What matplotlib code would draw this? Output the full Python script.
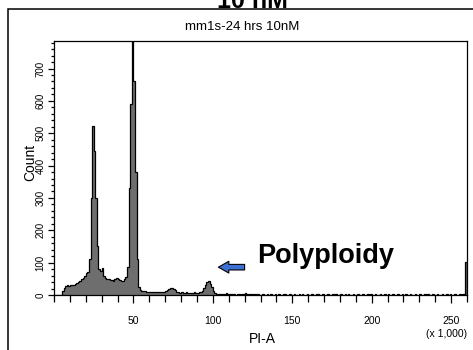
import numpy as np
import matplotlib
matplotlib.use("Agg")
import matplotlib.pyplot as plt
from matplotlib.patches import Rectangle
from matplotlib.ticker import MultipleLocator

# PI-A histogram, 1 channel = 1,000 units, counts (bins 0..259)
counts_0_60 = [
    0, 0, 0, 0, 0, 12, 22, 28, 30, 27, 30, 32, 30, 34, 36, 40, 44, 48, 52, 58,
    68, 72, 110, 300, 521, 445, 300, 150, 80, 75, 82, 60, 52, 50, 48, 45, 47, 44, 50, 53,
    50, 46, 44, 42, 48, 55, 85, 330, 590, 810, 660, 380, 110, 25, 15, 13, 12, 11, 10, 9,
]
counts_60_110 = [
    9, 10, 9, 8, 9, 8, 9, 8, 9, 10, 11, 14, 18, 21, 22, 19, 14, 10, 8, 7,
    8, 6, 7, 8, 6, 7, 5, 7, 8, 6, 7, 8, 9, 12, 22, 31, 40, 43, 35, 25,
    12, 5, 3, 2, 3, 2, 2, 3, 6, 2,
]
counts_110_260 = [
    2, 2, 3, 2, 1, 2, 2, 1, 2, 2, 6, 2, 1, 2, 2, 1, 2, 1, 2, 1,
    1, 2, 1, 1, 2, 1, 3, 1, 1, 2, 1, 2, 1, 1, 2, 3, 1, 1, 2, 1,
    1, 2, 1, 1, 3, 1, 2, 1, 1, 2, 1, 1, 2, 1, 1, 2, 3, 1, 1, 2,
    1, 1, 2, 1, 1, 3, 1, 2, 1, 1, 2, 1, 1, 2, 1, 3, 1, 1, 2, 1,
    1, 2, 1, 1, 2, 1, 1, 3, 1, 2, 1, 1, 2, 1, 1, 2, 1, 1, 2, 1,
    3, 1, 1, 2, 1, 1, 2, 1, 1, 2, 1, 3, 1, 1, 2, 1, 1, 2, 1, 1,
    2, 1, 1, 2, 1, 3, 1, 1, 2, 1, 1, 2, 1, 1, 2, 1, 1, 3, 1, 2,
    1, 1, 2, 1, 1, 2, 1, 2, 3, 102,
]
counts = counts_0_60 + counts_60_110 + counts_110_260
edges = np.arange(len(counts) + 1)

x_ticks = [50, 100, 150, 200, 250]
y_ticks = [0, 100, 200, 300, 400, 500, 600, 700]

main_title = "10 nM"
plot_title = "mm1s-24 hrs 10nM"
x_label = "PI-A"
y_label = "Count"
x_scale = "(x 1,000)"
note = "Polyploidy"

plt.rcParams['font.family'] = ['Liberation Sans', 'DejaVu Sans']

W, H = 473, 350
fig = plt.figure(figsize=(W / 100, H / 100), dpi=100)
ax = fig.add_axes([54 / W, 1 - 295 / H, (467 - 54) / W, (295 - 41) / H])

ax.stairs(counts, edges, fill=True, color='#6e6e6e', linewidth=0)
ax.stairs(counts, edges, color='black', linewidth=0.9)

ax.set_xlim(0, 260)
ax.set_ylim(0, 785)

ax.set_xticks(x_ticks)
ax.xaxis.set_minor_locator(MultipleLocator(10))
ax.set_yticks(y_ticks)
ax.yaxis.set_minor_locator(MultipleLocator(20))
ax.tick_params(which='both', direction='out', width=0.9, colors='black')
ax.tick_params(axis='x', which='major', length=6, pad=9, labelsize=7.5)
ax.tick_params(axis='x', which='minor', length=5)
ax.tick_params(axis='y', which='major', length=4.5, pad=1.5, labelsize=7)
ax.tick_params(axis='y', which='minor', length=2.5)
for lab in ax.get_yticklabels():
    lab.set_rotation(90)
    lab.set_va('center')
for sp in ax.spines.values():
    sp.set_linewidth(0.9)

# arrow + label for the polyploid peak
ax.annotate('', xy=(103.5, 86), xytext=(120, 86),
            arrowprops=dict(arrowstyle='simple,head_length=0.75,head_width=0.85,tail_width=0.4',
                            mutation_scale=10, fc='#3b6fd4', ec='black', lw=0.8,
                            shrinkA=0, shrinkB=0))
ax.text(127.7, 99, note, fontsize=19.5, fontweight='bold', va='baseline', ha='left')

fig.text(242 / W, 1 - 27 / H, plot_title, fontsize=9.5, ha='center', va='center')
fig.text(30 / W, 1 - 162 / H, y_label, fontsize=10, rotation=90, ha='center', va='center')
fig.text(262 / W, 1 - 339 / H, x_label, fontsize=10, ha='center', va='center')
fig.text(447 / W, 1 - 334 / H, x_scale, fontsize=7.5, ha='center', va='center')
fig.text(252 / W, 1 - 7.5 / H, main_title, fontsize=18, fontweight='bold',
         ha='center', va='baseline')

fig.add_artist(Rectangle((8 / W, -0.1), 1.2, 1.1 - 9 / H, transform=fig.transFigure,
                         fill=False, ec='black', lw=1.1))

fig.savefig('out.png', dpi=100)
